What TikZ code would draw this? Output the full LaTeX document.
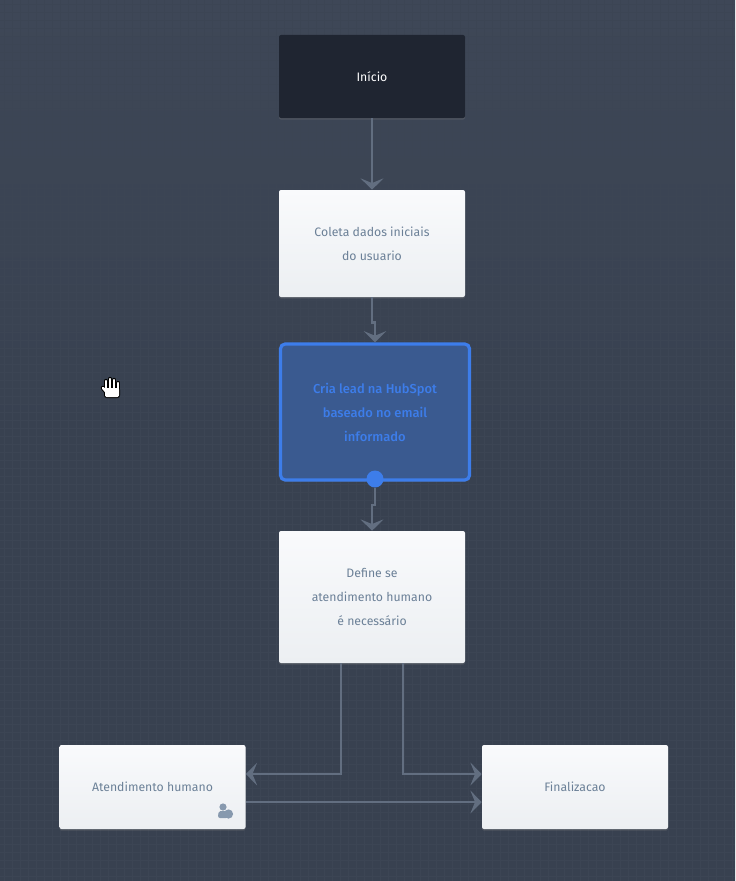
\documentclass[tikz,border=0pt]{standalone}
\usepackage{fontspec}
\setmainfont{Fira Sans}
\newfontfamily\leadfont{Fira Sans Medium}
\usetikzlibrary{arrows.meta,shadows}
\def\pxsz{0.75pt}
\definecolor{flowBg}{HTML}{384150}
\definecolor{flowBgTop}{HTML}{3E4757}
\definecolor{flowGrid}{HTML}{3C4554}
\definecolor{flowLine}{HTML}{626E80}
\definecolor{flowText}{HTML}{6B8097}
\definecolor{flowDark}{HTML}{1F2531}
\definecolor{flowBlue}{HTML}{3D7DEA}
\definecolor{flowBlueFill}{HTML}{3A5A90}
\definecolor{flowIcon}{HTML}{8799AE}
\definecolor{flowBoxTop}{HTML}{F9FAFC}
\definecolor{flowBoxBottom}{HTML}{ECEFF2}
\tikzset{
  flowbox/.style={rectangle, rounded corners=1.5pt, minimum width=186*\pxsz, inner sep=0pt,
    top color=flowBoxTop, bottom color=flowBoxBottom, draw=none,
    text=flowText, font=\fontsize{9.2pt}{18pt}\selectfont, align=center,
    drop shadow={shadow xshift=0pt, shadow yshift=-1.2pt, opacity=0.3}},
  startbox/.style={flowbox, top color=flowDark, bottom color=flowDark, text=white},
  activebox/.style={flowbox, minimum width=189*\pxsz, top color=flowBlueFill, bottom color=flowBlueFill,
    draw=flowBlue, line width=2.4pt, rounded corners=3.5pt, text=flowBlue,
    font=\fontsize{9.7pt}{18pt}\selectfont\leadfont},
  flowline/.style={draw=flowLine, line width=1.9pt,
    -{Stealth[length=8.5pt,width=17pt,inset=3.5pt]}},
}
\begin{document}
\begin{tikzpicture}[x=\pxsz, y=-\pxsz]
% Background
\useasboundingbox (0,0) rectangle (735,881);
\fill[top color=flowBgTop, bottom color=flowBg, middle color=flowBg] (0,0) rectangle (735,881);
\foreach \gridx in {4,12,...,735} {
  \draw[flowGrid, line width=0.3pt] (\gridx,0) -- (\gridx,881);
}
\foreach \gridy in {4,12,...,881} {
  \draw[flowGrid, line width=0.3pt] (0,\gridy) -- (735,\gridy);
}
% Nodes
\node[startbox, minimum height=83*\pxsz] (inicio) at (372,76.5) {Início};
\node[flowbox, minimum height=107*\pxsz] (coleta) at (372,243.5) {Coleta dados iniciais\\do usuario};
\node[activebox, minimum height=136*\pxsz] (lead) at (375,412) {Cria lead na HubSpot\\baseado no email\\informado};
\node[flowbox, minimum height=132*\pxsz] (define) at (372,597) {Define se\\atendimento humano\\é necessário};
\node[flowbox, minimum height=84*\pxsz] (humano) at (152.5,787) {Atendimento humano};
\node[flowbox, minimum height=84*\pxsz] (fim) at (575,787) {Finalizacao};
% Connectors
\draw[flowline] (inicio.south) -- (coleta.north);
\draw[flowline] (coleta.south) -- ++(0,25) -| (lead.north);
\node[circle, fill=flowBlue, minimum size=17*\pxsz, inner sep=0pt] (handle) at (375,479) {};
\draw[flowline] (handle.south) -- ++(0,17) -| (define.north);
\draw[flowline] ([xshift=-31*\pxsz]define.south) |- ([yshift=13*\pxsz]humano.east);
\draw[flowline] ([xshift=31*\pxsz]define.south) |- ([yshift=13*\pxsz]fim.west);
\draw[flowline] ([yshift=-15*\pxsz]humano.east) -- ([yshift=-15*\pxsz]fim.west);
% Person icon
\fill[flowIcon] (223,807) circle (3.6);
\fill[flowIcon, rounded corners=1.5pt] (218,818) -- (218.5,811) -- (227,811) -- (228,818) -- cycle;
\fill[flowIcon] (228.5,814) circle (4.6);
% Hand cursor
\foreach \fingerx/\fingery in {106/381,110/379,114/380,118/383} {
  \draw[black, line width=4.4*\pxsz, line cap=round] (\fingerx,\fingery) -- (\fingerx,391);
}
\draw[black, line width=4.4*\pxsz, line cap=round] (103,388) -- (108,394);
\fill[black, rounded corners=2pt] (104,387) rectangle (120,398);
\draw[white, line width=2.4*\pxsz, line cap=round] (103,388) -- (108,394);
\foreach \fingerx/\fingery in {106/381,110/379,114/380,118/383} {
  \draw[white, line width=2.4*\pxsz, line cap=round] (\fingerx,\fingery) -- (\fingerx,391);
}
\fill[white, rounded corners=1pt] (105,388) rectangle (119,397);
\end{tikzpicture}
\end{document}
